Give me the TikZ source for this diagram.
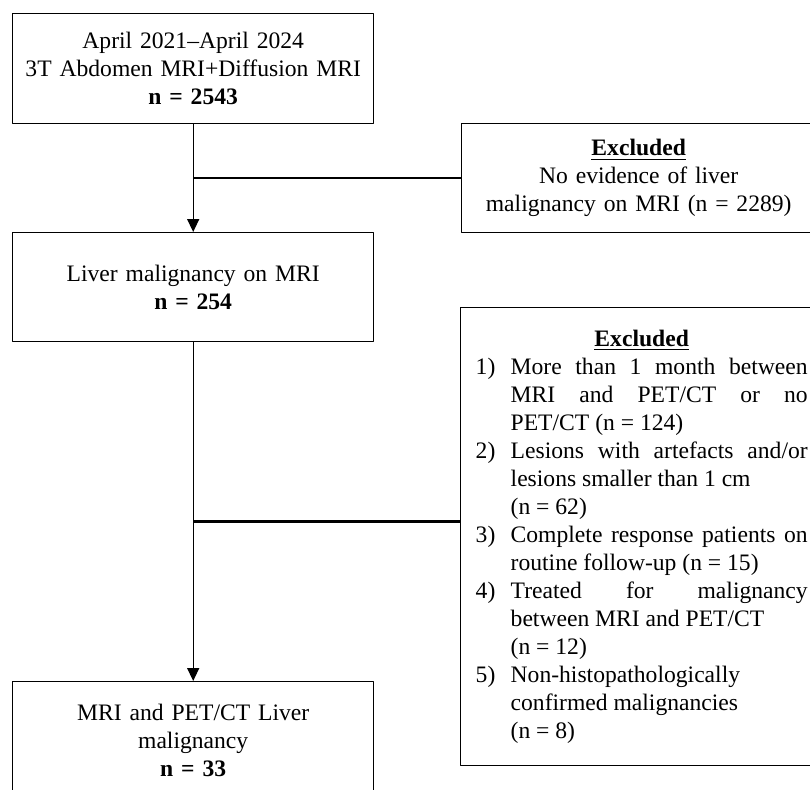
\documentclass[tikz,border=0pt]{standalone}
\usepackage{fontspec}
\setmainfont{Liberation Serif}
\usepackage{tikz}
\usetikzlibrary{arrows.meta}
\usetikzlibrary{calc}
\tikzset{box/.style={draw,line width=0.7pt,inner sep=0pt,anchor=north west,align=center,font=\fontsize{11.8}{14}\selectfont}}
\tikzset{link/.style={line width=0.7pt,-{Triangle[length=6.5pt,width=6pt]}}}
\tikzset{side/.style={line width=1.2pt}}
\newcommand{\exitem}[2]{\par\noindent\hangindent=17.5pt\hangafter=1\makebox[17.5pt][l]{#1}#2\par}
\newcommand{\fullline}[1]{\makebox[148.5pt][s]{#1}}

\begin{document}
\begin{tikzpicture}[x=0.5pt,y=-0.5pt,line join=round]
          \useasboundingbox (0,0) rectangle (810,789);
          \clip (0,0) rectangle (810,789);
          \node[box,text width=180.5pt,minimum height=55pt](top) at (12,13) {April 2021--April 2024\\3T Abdomen MRI+Diffusion MRI\\\textbf{n = 2543}};
          \node[box,text width=180.5pt,minimum height=54.5pt](liver) at (12,232) {Liver malignancy on MRI\\\textbf{n = 254}};
          \node[box,text width=180.5pt,minimum height=59pt](final) at (12,681) {MRI and PET/CT Liver\\malignancy\\\textbf{n = 33}};
          \node[box,text width=177pt,minimum height=54.5pt](excl1) at (461,123) {\underline{\textbf{Excluded}}\\No evidence of liver\\malignancy on MRI (n = 2289)};
          \node[box,align=justify,inner xsep=7.5pt,text width=166pt,minimum height=229pt](excl2) at (460,307) {{\centering\underline{\textbf{Excluded}}\par}
            \exitem{1)}{\fullline{More than 1 month between}\\\fullline{MRI and PET/CT or no}\\PET/CT (n = 124)}
            \exitem{2)}{\fullline{Lesions with artefacts and/or}\\lesions smaller than 1 cm\\(n = 62)}
            \exitem{3)}{\fullline{Complete response patients on}\\routine follow-up (n = 15)}
            \exitem{4)}{\fullline{Treated for malignancy}\\between MRI and PET/CT\\(n = 12)}
            \exitem{5)}{Non-histopathologically\\confirmed malignancies\\(n = 8)}};
          \draw[link](top.south)--(liver.north);
          \draw[side](top.south |- excl1.west)--(excl1.west);
          \draw[link](liver.south)--(final.north);
          \path (liver.south) ++(0,179) coordinate (split);
          \draw[side](split)--(split -| excl2.west);
        \end{tikzpicture}
\end{document}
